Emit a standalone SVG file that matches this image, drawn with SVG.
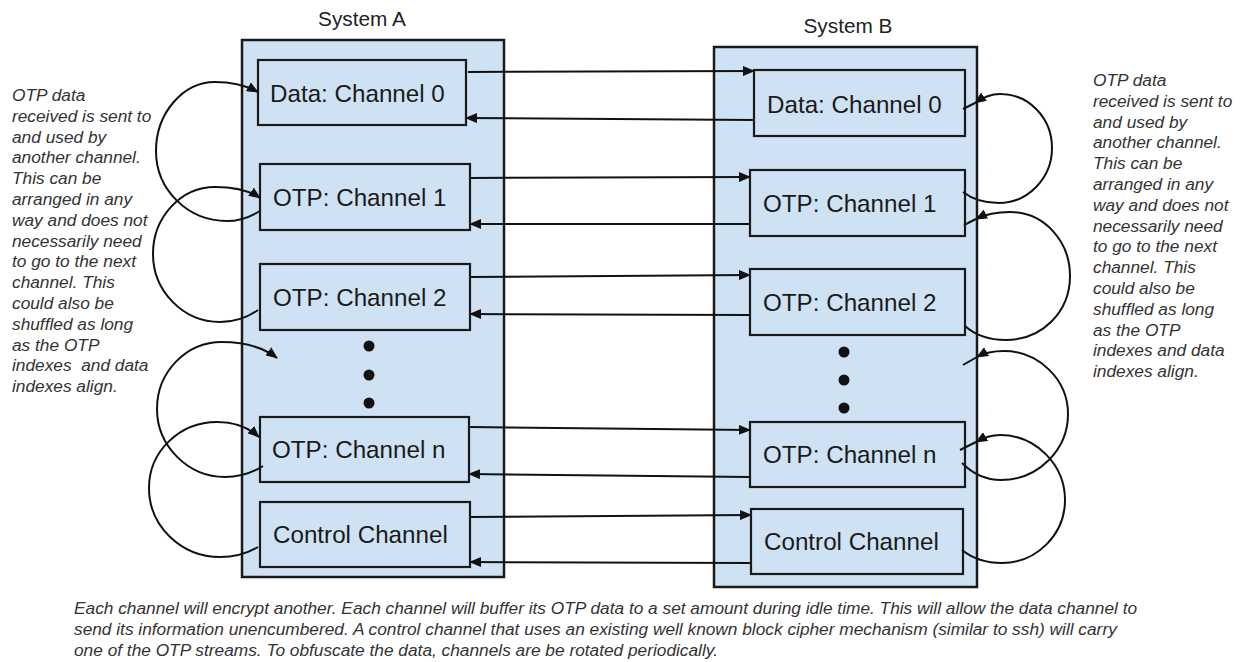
<svg xmlns="http://www.w3.org/2000/svg" width="1242" height="662" viewBox="0 0 1242 662">
  <defs>
    <style>
      .sys { fill: #cfe2f3; stroke: #1a1a1a; stroke-width: 2.5; }
      .ch { fill: #cfe2f3; stroke: #1a1a1a; stroke-width: 2.2; }
      .title { font-family: "Liberation Sans", Arial, sans-serif; font-size: 20.8px; fill: #222; text-anchor: middle; }
      .lbl { font-family: "Liberation Sans", Arial, sans-serif; font-size: 24.2px; fill: #1a1a1a; }
      .note { font-family: "Liberation Sans", Arial, sans-serif; font-size: 17.3px; font-style: italic; fill: #333; }
      .wire { fill: none; stroke: #111; stroke-width: 2; }
      .dot { fill: #111; }
    </style>
    <marker id="arrow" viewBox="0 0 12 10" refX="11" refY="5" markerWidth="12" markerHeight="10" markerUnits="userSpaceOnUse" orient="auto">
      <path d="M0,0 L12,5 L0,10 Z" fill="#111"/>
    </marker>
  </defs>

  <rect width="1242" height="662" fill="#ffffff"/>

  <!-- System A -->
  <g id="system-a">
    <text class="title" x="362" y="26">System A</text>
    <rect class="sys" x="242" y="40" width="262" height="537"/>
  </g>
  <g id="a-data-0">
    <rect class="ch" x="258" y="60" width="208" height="65"/>
    <text class="lbl" x="270" y="102">Data: Channel 0</text>
  </g>
  <g id="a-otp-1">
    <rect class="ch" x="260" y="164" width="210" height="66"/>
    <text class="lbl" x="273" y="206">OTP: Channel 1</text>
  </g>
  <g id="a-otp-2">
    <rect class="ch" x="260" y="264" width="210" height="66"/>
    <text class="lbl" x="273" y="306">OTP: Channel 2</text>
  </g>
  <g id="a-ellipsis">
    <circle class="dot" cx="369" cy="346" r="5.5"/>
    <circle class="dot" cx="369" cy="375" r="5.5"/>
    <circle class="dot" cx="369" cy="403" r="5.5"/>
  </g>
  <g id="a-otp-n">
    <rect class="ch" x="260" y="417" width="209" height="65"/>
    <text class="lbl" x="272" y="458">OTP: Channel n</text>
  </g>
  <g id="a-control">
    <rect class="ch" x="260" y="502" width="210" height="65"/>
    <text class="lbl" x="273" y="543">Control Channel</text>
  </g>

  <!-- System B -->
  <g id="system-b">
    <text class="title" x="848" y="33">System B</text>
    <rect class="sys" x="714" y="47" width="263" height="540"/>
  </g>
  <g id="b-data-0">
    <rect class="ch" x="754" y="70" width="211" height="66"/>
    <text class="lbl" x="767" y="113">Data: Channel 0</text>
  </g>
  <g id="b-otp-1">
    <rect class="ch" x="750" y="170" width="215" height="66"/>
    <text class="lbl" x="763" y="212">OTP: Channel 1</text>
  </g>
  <g id="b-otp-2">
    <rect class="ch" x="750" y="269" width="215" height="66"/>
    <text class="lbl" x="763" y="311">OTP: Channel 2</text>
  </g>
  <g id="b-ellipsis">
    <circle class="dot" cx="844" cy="352" r="5.5"/>
    <circle class="dot" cx="844" cy="380" r="5.5"/>
    <circle class="dot" cx="844" cy="408" r="5.5"/>
  </g>
  <g id="b-otp-n">
    <rect class="ch" x="750" y="422" width="215" height="65"/>
    <text class="lbl" x="763" y="463">OTP: Channel n</text>
  </g>
  <g id="b-control">
    <rect class="ch" x="751" y="509" width="212" height="65"/>
    <text class="lbl" x="764" y="550">Control Channel</text>
  </g>

  <!-- Links between the systems and the key-feed loops -->
  <g id="connectors">
    <!-- A to B -->
    <path class="wire" marker-end="url(#arrow)" d="M468,72 L754,71"/>
    <path class="wire" marker-end="url(#arrow)" d="M470,178 L750,177"/>
    <path class="wire" marker-end="url(#arrow)" d="M470,277 L750,275"/>
    <path class="wire" marker-end="url(#arrow)" d="M469,427 L750,430"/>
    <path class="wire" marker-end="url(#arrow)" d="M470,517 L751,515"/>
    <!-- B to A -->
    <path class="wire" marker-end="url(#arrow)" d="M754,120 L466,118"/>
    <path class="wire" marker-end="url(#arrow)" d="M750,224 L470,224"/>
    <path class="wire" marker-end="url(#arrow)" d="M750,315 L470,314"/>
    <path class="wire" marker-end="url(#arrow)" d="M750,477 L469,474"/>
    <path class="wire" marker-end="url(#arrow)" d="M751,563 L470,562"/>

    <!-- System A loops -->
    <path class="wire" marker-end="url(#arrow)" d="M260,211 C250,217 240,221 227,221 C188,221 156,190 156,151 C156,113 183,82 215,82 C233,82 247,86 258,92"/>
    <path class="wire" marker-end="url(#arrow)" d="M258,310 C248,317 236,322 220,322 C183,322 153,291 153,254 C153,217 181,187 215,187 C235,187 250,191 260,198"/>
    <path class="wire" marker-end="url(#arrow)" d="M263,466 C252,473 240,477 225,477 C188,477 157,446 157,409 C157,372 186,342 222,342 C245,342 264,348 277,358"/>
    <path class="wire" marker-end="url(#arrow)" d="M258,547 C248,553 235,557 220,557 C181,557 149,526 149,488 C149,451 180,422 217,422 C234,422 249,428 259,437"/>

    <!-- System B loops -->
    <path class="wire" marker-end="url(#arrow)" d="M963,192 C972,199 985,203 999,203 C1028,203 1052,178 1052,148 C1052,118 1029,94 1000,94 C990,94 982,98 975,103"/>
    <path class="wire" d="M975,103 L963,109"/>
    <path class="wire" marker-end="url(#arrow)" d="M965,326 C975,335 990,340 1006,340 C1042,340 1070,312 1070,276 C1070,241 1044,212 1010,212 C995,212 984,215 976,219"/>
    <path class="wire" d="M976,219 L964,225"/>
    <path class="wire" marker-end="url(#arrow)" d="M962,463 C972,473 986,480 1001,480 C1038,480 1068,450 1068,414 C1068,379 1038,351 1004,351 C993,351 984,353 977,357"/>
    <path class="wire" d="M977,357 L963,365"/>
    <path class="wire" marker-end="url(#arrow)" d="M962,550 C972,558 986,563 1002,563 C1036,563 1065,535 1065,500 C1065,465 1036,435 1000,435 C991,435 983,438 976,442"/>
    <path class="wire" d="M976,442 L960,450"/>
  </g>

  <!-- Side notes -->
  <text class="note" x="12" y="101">
    <tspan x="12" dy="0">OTP data</tspan>
    <tspan x="12" dy="20.8">received is sent to</tspan>
    <tspan x="12" dy="20.8">and used by</tspan>
    <tspan x="12" dy="20.8">another channel.</tspan>
    <tspan x="12" dy="20.8">This can be</tspan>
    <tspan x="12" dy="20.8">arranged in any</tspan>
    <tspan x="12" dy="20.8">way and does not</tspan>
    <tspan x="12" dy="20.8">necessarily need</tspan>
    <tspan x="12" dy="20.8">to go to the next</tspan>
    <tspan x="12" dy="20.8">channel. This</tspan>
    <tspan x="12" dy="20.8">could also be</tspan>
    <tspan x="12" dy="20.8">shuffled as long</tspan>
    <tspan x="12" dy="20.8">as the OTP</tspan>
    <tspan x="12" dy="20.8" style="white-space:pre">indexes  and data</tspan>
    <tspan x="12" dy="20.8">indexes align.</tspan>
  </text>
  <text class="note" x="1093" y="86">
    <tspan x="1093" dy="0">OTP data</tspan>
    <tspan x="1093" dy="20.8">received is sent to</tspan>
    <tspan x="1093" dy="20.8">and used by</tspan>
    <tspan x="1093" dy="20.8">another channel.</tspan>
    <tspan x="1093" dy="20.8">This can be</tspan>
    <tspan x="1093" dy="20.8">arranged in any</tspan>
    <tspan x="1093" dy="20.8">way and does not</tspan>
    <tspan x="1093" dy="20.8">necessarily need</tspan>
    <tspan x="1093" dy="20.8">to go to the next</tspan>
    <tspan x="1093" dy="20.8">channel. This</tspan>
    <tspan x="1093" dy="20.8">could also be</tspan>
    <tspan x="1093" dy="20.8">shuffled as long</tspan>
    <tspan x="1093" dy="20.8">as the OTP</tspan>
    <tspan x="1093" dy="20.8">indexes and data</tspan>
    <tspan x="1093" dy="20.8">indexes align.</tspan>
  </text>

  <!-- Caption -->
  <text class="note" x="74" y="614">
    <tspan x="74" y="614">Each channel will encrypt another. Each channel will buffer its OTP data to a set amount during idle time. This will allow the data channel to</tspan>
    <tspan x="74" y="635">send its information unencumbered. A control channel that uses an existing well known block cipher mechanism (similar to ssh) will carry</tspan>
    <tspan x="74" y="656">one of the OTP streams. To obfuscate the data, channels are be rotated periodically.</tspan>
  </text>
</svg>
